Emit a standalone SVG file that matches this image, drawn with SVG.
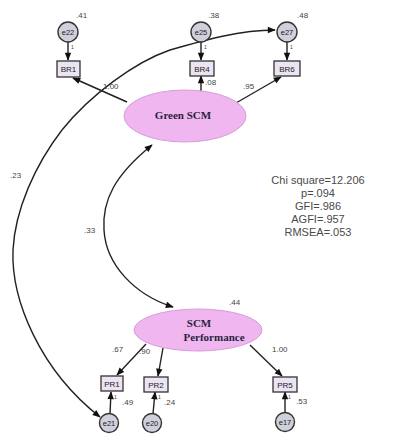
<svg xmlns="http://www.w3.org/2000/svg" width="395" height="434" viewBox="0 0 395 434">
  <defs>
    <marker id="arr" viewBox="0 0 10 10" refX="9" refY="5" markerWidth="9" markerHeight="8" orient="auto" markerUnits="userSpaceOnUse">
      <path d="M0,1 L10,5 L0,9 z" fill="#111"/>
    </marker>
    <style>
      .ln { stroke:#222; stroke-width:1.4; fill:none; }
      .box rect { fill:#ece4f2; stroke:#333; stroke-width:1.3; }
      .box text { font-family:"Liberation Sans",Arial,sans-serif; font-size:8px; fill:#222; text-anchor:middle; }
      .err circle { fill:#cfd0dc; stroke:#333; stroke-width:1.4; }
      .err text { font-family:"Liberation Sans",Arial,sans-serif; font-size:7.5px; fill:#222; text-anchor:middle; }
      .lat ellipse { fill:#f0b6f0; stroke:#d89cd8; stroke-width:1; }
      .lat text { font-family:"Liberation Serif","Times New Roman",serif; font-weight:bold; font-size:11px; fill:#2a1f3f; text-anchor:middle; }
      .lbl { font-family:"Liberation Sans",Arial,sans-serif; font-size:8px; fill:#444; }
      .one { font-family:"Liberation Sans",Arial,sans-serif; font-size:5px; fill:#444; }
      .fit { font-family:"Liberation Sans",Arial,sans-serif; font-size:11px; fill:#4a4a4a; text-anchor:middle; }
    </style>
  </defs>
  <rect width="395" height="434" fill="#fff"/>

  <!-- paths and covariances -->
  <g id="connectors">
    <!-- error terms to indicators -->
    <line class="ln" x1="68" y1="42" x2="68" y2="60" marker-end="url(#arr)"/>
    <line class="ln" x1="201" y1="42" x2="201" y2="60" marker-end="url(#arr)"/>
    <line class="ln" x1="287" y1="42" x2="287" y2="60" marker-end="url(#arr)"/>
    <line class="ln" x1="110" y1="414" x2="111" y2="392" marker-end="url(#arr)"/>
    <line class="ln" x1="153" y1="414" x2="155" y2="392" marker-end="url(#arr)"/>
    <line class="ln" x1="285" y1="413" x2="285" y2="392" marker-end="url(#arr)"/>
    <!-- Green SCM loadings -->
    <line class="ln" x1="127" y1="102" x2="73" y2="78" marker-end="url(#arr)"/>
    <line class="ln" x1="201" y1="91" x2="201" y2="76" marker-end="url(#arr)"/>
    <line class="ln" x1="236" y1="103" x2="281" y2="77" marker-end="url(#arr)"/>
    <!-- SCM Performance loadings -->
    <line class="ln" x1="146" y1="344" x2="117" y2="375" marker-end="url(#arr)"/>
    <line class="ln" x1="163" y1="348" x2="158" y2="376" marker-end="url(#arr)"/>
    <line class="ln" x1="250" y1="345" x2="282" y2="376" marker-end="url(#arr)"/>
    <!-- covariance between latent factors -->
    <path class="ln" d="M104,230 C102,200 115,175 152,145" marker-end="url(#arr)"/>
    <path class="ln" d="M104,230 C106,265 135,295 173,307" marker-end="url(#arr)"/>
    <!-- covariance between e21 and e27 -->
    <path class="ln" d="M62,130 C90,95 135,62 170,50 C205,40 240,30 275,30" marker-end="url(#arr)"/>
    <path class="ln" d="M62,130 C35,165 15,210 13,250 C11,300 40,370 100,417" marker-end="url(#arr)"/>
  </g>

  <!-- path coefficients -->
  <g id="labels">
    <text class="lbl" x="76" y="18">.41</text>
    <text class="lbl" x="208" y="18">.38</text>
    <text class="lbl" x="297" y="18">.48</text>
    <text class="lbl" x="103" y="89">1.00</text>
    <text class="lbl" x="205" y="85">.08</text>
    <text class="lbl" x="243" y="89">.95</text>
    <text class="lbl" x="10" y="178">.23</text>
    <text class="lbl" x="84" y="233">.33</text>
    <text class="lbl" x="229" y="305">.44</text>
    <text class="lbl" x="112" y="352">.67</text>
    <text class="lbl" x="139" y="354">.90</text>
    <text class="lbl" x="272" y="352">1.00</text>
    <text class="lbl" x="122" y="405">.49</text>
    <text class="lbl" x="164" y="405">.24</text>
    <text class="lbl" x="296" y="404">.53</text>
    <text class="one" x="71" y="49">1</text>
    <text class="one" x="204" y="49">1</text>
    <text class="one" x="290" y="49">1</text>
    <text class="one" x="114" y="399">1</text>
    <text class="one" x="158" y="399">1</text>
    <text class="one" x="288" y="399">1</text>
  </g>

  <!-- latent factors -->
  <g id="green-scm" class="lat">
    <ellipse cx="185" cy="116" rx="61" ry="26"/>
    <text x="183" y="119">Green SCM</text>
  </g>
  <g id="scm-performance" class="lat">
    <ellipse cx="198" cy="330" rx="64" ry="21"/>
    <text x="199" y="327">SCM</text>
    <text x="214" y="341">Performance</text>
  </g>

  <!-- indicators -->
  <g id="BR1" class="box"><rect x="57" y="61" width="23" height="16"/><text x="68.5" y="72">BR1</text></g>
  <g id="BR4" class="box"><rect x="190" y="61" width="24" height="15"/><text x="202" y="72">BR4</text></g>
  <g id="BR6" class="box"><rect x="274" y="61" width="26" height="15"/><text x="287" y="72">BR6</text></g>
  <g id="PR1" class="box"><rect x="101" y="376" width="22" height="15"/><text x="112" y="387">PR1</text></g>
  <g id="PR2" class="box"><rect x="144" y="377" width="24" height="15"/><text x="156" y="388">PR2</text></g>
  <g id="PR5" class="box"><rect x="273" y="377" width="24" height="15"/><text x="285" y="388">PR5</text></g>

  <!-- error terms -->
  <g id="e22" class="err"><circle cx="68" cy="32" r="10"/><text x="68" y="35">e22</text></g>
  <g id="e25" class="err"><circle cx="201" cy="32" r="10"/><text x="201" y="35">e25</text></g>
  <g id="e27" class="err"><circle cx="287" cy="32" r="10"/><text x="287" y="35">e27</text></g>
  <g id="e21" class="err"><circle cx="109" cy="423" r="9.5"/><text x="109" y="426">e21</text></g>
  <g id="e20" class="err"><circle cx="152" cy="423" r="9.5"/><text x="152" y="426">e20</text></g>
  <g id="e17" class="err"><circle cx="285" cy="422" r="9.5"/><text x="285" y="425">e17</text></g>

  <!-- model fit -->
  <g id="fit">
    <text class="fit" x="318" y="184">Chi square=12.206</text>
    <text class="fit" x="318" y="197">p=.094</text>
    <text class="fit" x="318" y="210">GFI=.986</text>
    <text class="fit" x="318" y="223">AGFI=.957</text>
    <text class="fit" x="318" y="236">RMSEA=.053</text>
  </g>
</svg>
